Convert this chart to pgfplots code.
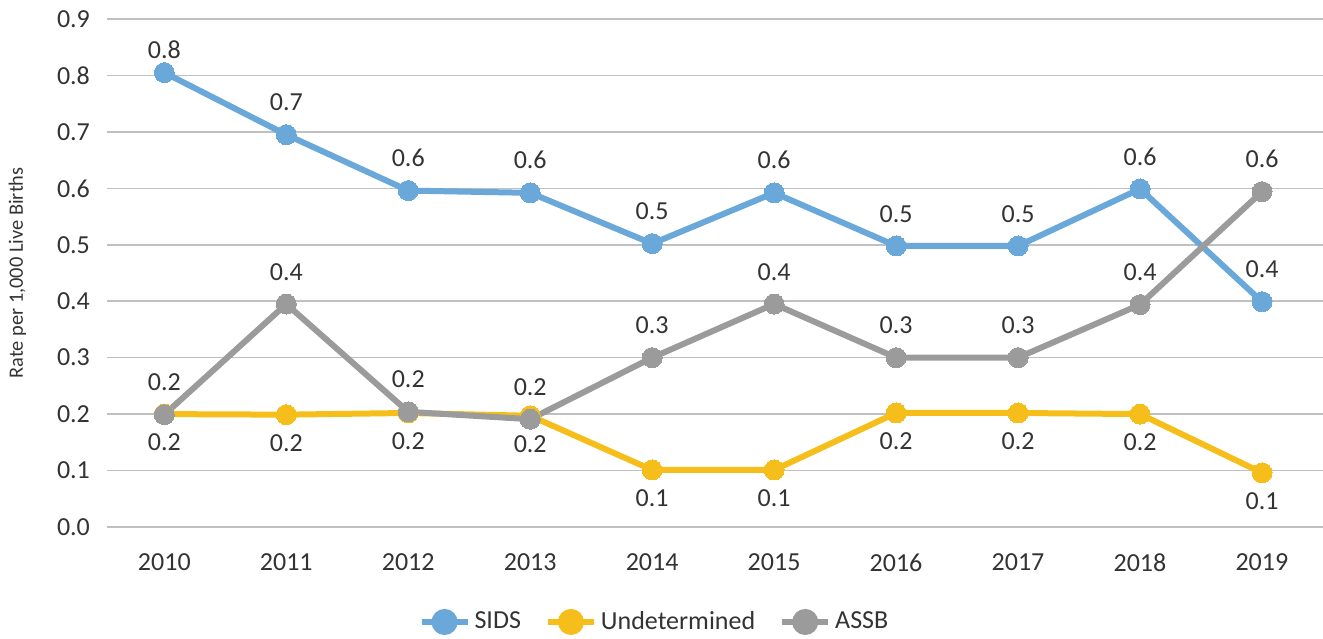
\documentclass[border=0pt]{standalone}
\usepackage{pgfplots}
\pgfplotsset{compat=1.18}
\usepackage{fontspec}
\setmainfont{Carlito}
\definecolor{sids}{HTML}{6AA8DA}
\definecolor{und}{HTML}{F5BE1A}
\definecolor{assb}{HTML}{9B9B9B}
\definecolor{txt}{HTML}{333333}
\definecolor{grid}{HTML}{C0C0C0}
\begin{document}
\begin{tikzpicture}
\begin{axis}[
  name=ax,
  scale only axis,
  width=608pt, height=254pt,
  xmin=2009.53, xmax=2019.5,
  ymin=0, ymax=0.9,
  axis line style={draw=none},
  tick style={draw=none},
  xtick={2010,...,2019},
  xticklabel style={/pgf/number format/1000 sep={}},
  ytick={0,0.1,...,0.9},
  yticklabel style={/pgf/number format/fixed,/pgf/number format/fixed zerofill,/pgf/number format/precision=1},
  /pgf/number format/assume math mode=true,
  ymajorgrids,
  major grid style={draw=grid, line width=0.8pt},
  tick label style={font=\fontsize{13}{15}\selectfont, text=txt},
  yticklabel style={xshift=-5pt},
  xticklabel style={yshift=-10pt},
  ylabel={Rate per 1,000 Live Births},
  ylabel style={font=\fontsize{10.2}{12}\selectfont, text=txt, yshift=8.5pt},
  legend style={draw=none, at={(0.451,-0.187)}, anchor=center, legend columns=3,
    font=\fontsize{13}{15}\selectfont, text=txt, /tikz/every even column/.append style={column sep=10pt}},
  legend image code/.code={\draw[#1, mark=none] (0pt,0pt) -- (23pt,0pt); \fill[#1] (11.5pt,0pt) circle (5pt);},
  clip=false,
  nodes near coords={\pgfmathprintnumber[fixed,fixed zerofill,precision=1,assume math mode=true]{\pgfplotspointmeta}},
  every node near coord/.append style={font=\fontsize{13}{15}\selectfont, text=txt},
]
\addplot[sids, line width=3pt, mark=*, mark size=5pt, mark options={solid, fill=sids, draw=sids, line width=0pt},
  every node near coord/.append style={anchor=south, yshift=8.5pt},
  coordinate style/.condition={x<2010.5}{yshift=-5pt}]
  coordinates {(2010,0.805) (2011,0.695) (2012,0.596) (2013,0.592) (2014,0.502) (2015,0.592) (2016,0.498) (2017,0.498) (2018,0.599) (2019,0.399)};
\addlegendentry{SIDS}
\addplot[und, line width=3pt, mark=*, mark size=5pt, mark options={solid, fill=und, draw=und, line width=0pt},
  every node near coord/.append style={anchor=north, yshift=-6.5pt}]
  coordinates {(2010,0.200) (2011,0.199) (2012,0.202) (2013,0.197) (2014,0.101) (2015,0.101) (2016,0.202) (2017,0.202) (2018,0.200) (2019,0.096)};
\addlegendentry{Undetermined}
\addplot[assb, line width=3pt, mark=*, mark size=5pt, mark options={solid, fill=assb, draw=assb, line width=0pt},
  every node near coord/.append style={anchor=south, yshift=8.5pt}]
  coordinates {(2010,0.199) (2011,0.395) (2012,0.204) (2013,0.191) (2014,0.300) (2015,0.395) (2016,0.300) (2017,0.300) (2018,0.394) (2019,0.594)};
\addlegendentry{ASSB}
\end{axis}
\pgfresetboundingbox
\path ([xshift=-53.5pt,yshift=-56pt]ax.south west) rectangle ([yshift=9.5pt]ax.north east);
\end{tikzpicture}
\end{document}
